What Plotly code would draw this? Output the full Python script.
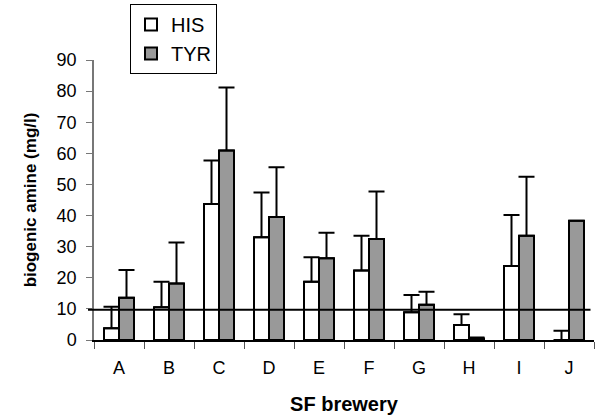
import plotly.graph_objects as go

breweries = ["A", "B", "C", "D", "E", "F", "G", "H", "I", "J"]
his = [3.8, 10.5, 43.7, 33.0, 18.7, 22.3, 8.9, 4.8, 23.8, 0.0]
his_err_top = [10.7, 18.7, 57.7, 47.4, 26.6, 33.5, 14.5, 8.3, 40.2, 3.0]
tyr = [13.6, 18.2, 60.9, 39.5, 26.3, 32.5, 11.3, 0.5, 33.5, 38.3]
tyr_err_top = [22.5, 31.3, 81.2, 55.5, 34.5, 47.7, 15.5, 0.8, 52.5, 38.3]
limit_value = 9.7
y_ticks = [0, 10, 20, 30, 40, 50, 60, 70, 80, 90]

his_err = [t - v for t, v in zip(his_err_top, his)]
tyr_err = [t - v for t, v in zip(tyr_err_top, tyr)]
zeros = [0] * len(breweries)

font_family = "Liberation Sans, Arial, sans-serif"

fig = go.Figure()
fig.add_trace(go.Bar(
    x=breweries, y=his, name="HIS", legendgroup="his",
    marker=dict(color="white", line=dict(color="black", width=2)),
    error_y=dict(type="data", symmetric=False, array=his_err, arrayminus=zeros,
                 color="black", thickness=2, width=8),
))
fig.add_trace(go.Bar(
    x=breweries, y=tyr, name="TYR", legendgroup="tyr",
    marker=dict(color="#999999", line=dict(color="black", width=2)),
    error_y=dict(type="data", symmetric=False, array=tyr_err, arrayminus=zeros,
                 color="black", thickness=2, width=8),
))

fig.add_shape(type="line", xref="paper", yref="y", x0=-0.012, x1=0.993,
              y0=limit_value, y1=limit_value, line=dict(color="black", width=2))

fig.update_layout(
    width=597, height=418,
    margin=dict(l=94, r=3, t=60, b=78),
    paper_bgcolor="white", plot_bgcolor="white",
    barmode="group", bargap=0.4, bargroupgap=0,
    font=dict(family=font_family, size=18, color="black"),
    legend=dict(
        x=0.072, y=1.2, xanchor="left", yanchor="top",
        bordercolor="black", borderwidth=1, bgcolor="white",
        font=dict(size=20), traceorder="normal",
        itemwidth=30, tracegroupgap=3,
    ),
    xaxis=dict(
        showline=True, linecolor="black", linewidth=2,
        ticks="outside", tickson="boundaries", ticklen=7, tickcolor="#555555",
        tickfont=dict(size=18), ticklabelstandoff=10,
        title=dict(text="<b>SF brewery</b>", font=dict(size=20), standoff=20),
    ),
    yaxis=dict(
        range=[0, 90], tickvals=y_ticks, showgrid=False, zeroline=False,
        showline=True, linecolor="#777777", linewidth=1.5,
        ticks="outside", ticklen=6, tickcolor="#777777",
        tickfont=dict(size=18), ticklabelstandoff=6,
        title=dict(text="<b>biogenic amine (mg/l)</b>", font=dict(size=17), standoff=16),
    ),
)

fig.write_html("out.html", config={"displayModeBar": False},
               post_script="document.body.style.margin='0';document.body.style.padding='0';")
